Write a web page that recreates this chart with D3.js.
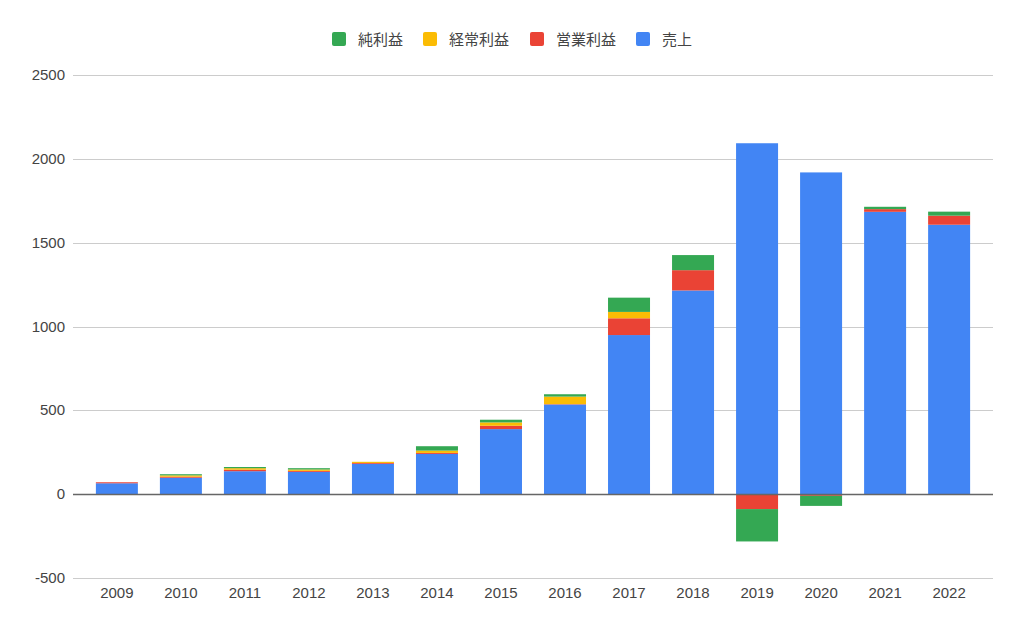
<!DOCTYPE html>
<html>
<head>
<meta charset="utf-8">
<script src="https://cdn.jsdelivr.net/npm/d3@7"></script>
<style>
  body { margin: 0; background: #fff; }
  text { font-family: Arial, "Liberation Sans", "Noto Sans CJK JP", sans-serif; }
</style>
</head>
<body>
<svg id="chart" width="1024" height="633"></svg>
<script>
const years = ["2009","2010","2011","2012","2013","2014","2015","2016","2017","2018","2019","2020","2021","2022"];
const sales = [65, 98, 137, 133, 181, 240, 388, 535, 949, 1215, 2093, 1919, 1684, 1607];
const opProfit = [6, 6, 9, 6, 5, 6, 20, 2, 100, 121, -89, -10, 16, 54];
const ordProfit = [0, 8, 9, 8, 7, 14, 20, 45, 38, 0, 0, 0, 0, 0];
const netProfit = [0, 7, 7, 8, 0, 26, 16, 14, 85, 90, -193, -60, 14, 24];
const yTicks = [-500, 0, 500, 1000, 1500, 2000, 2500];

const seriesKeys = ["売上", "営業利益", "経常利益", "純利益"];
const colors = { "売上": "#4285F4", "営業利益": "#EA4335", "経常利益": "#FBBC04", "純利益": "#34A853" };
const legendOrder = ["純利益", "経常利益", "営業利益", "売上"];

const table = years.map((y, i) => ({
  year: y,
  "売上": sales[i],
  "営業利益": opProfit[i],
  "経常利益": ordProfit[i],
  "純利益": netProfit[i]
}));

const svg = d3.select("#chart");
const plotLeft = 73, plotRight = 993, plotTop = 75, plotBottom = 578;

const x = d3.scaleBand().domain(years).range([85, 981]).paddingInner(0.344).paddingOuter(0.17);
const y = d3.scaleLinear().domain([-500, 2500]).range([plotBottom, plotTop]);

// gridlines
svg.append("g").selectAll("line")
  .data(yTicks.filter(d => d !== 0))
  .join("line")
  .attr("x1", plotLeft).attr("x2", plotRight)
  .attr("y1", d => Math.round(y(d)) + 0.5).attr("y2", d => Math.round(y(d)) + 0.5)
  .attr("stroke", "#cccccc").attr("stroke-width", 1);

// y labels
svg.append("g").selectAll("text")
  .data(yTicks)
  .join("text")
  .attr("x", 65).attr("y", d => y(d) + 5)
  .attr("text-anchor", "end")
  .attr("font-size", 15).attr("fill", "#444")
  .text(d => d);

// stacks
const stack = d3.stack().keys(seriesKeys).offset(d3.stackOffsetDiverging);
const series = stack(table);

svg.append("g").selectAll("g")
  .data(series)
  .join("g")
  .attr("fill", d => colors[d.key])
  .selectAll("rect")
  .data(d => d)
  .join("rect")
  .attr("x", d => x(d.data.year))
  .attr("width", x.bandwidth())
  .attr("y", d => y(Math.max(d[0], d[1])))
  .attr("height", d => Math.abs(y(d[0]) - y(d[1])));

// zero line
svg.append("line")
  .attr("x1", plotLeft).attr("x2", plotRight)
  .attr("y1", Math.round(y(0)) + 0.5).attr("y2", Math.round(y(0)) + 0.5)
  .attr("stroke", "#666").attr("stroke-width", 1.5);

// x labels
svg.append("g").selectAll("text")
  .data(years)
  .join("text")
  .attr("x", d => x(d) + x.bandwidth() / 2)
  .attr("y", 598)
  .attr("text-anchor", "middle")
  .attr("font-size", 15).attr("fill", "#444")
  .text(d => d);

// legend
const legendX = [332, 423, 530, 636];
const legend = svg.append("g").selectAll("g")
  .data(legendOrder)
  .join("g")
  .attr("transform", (d, i) => `translate(${legendX[i]}, 32)`);
legend.append("rect")
  .attr("width", 14).attr("height", 14).attr("rx", 2)
  .attr("fill", d => colors[d]);
legend.append("text")
  .attr("x", 26).attr("y", 12.5)
  .attr("font-size", 15).attr("fill", "#444")
  .text(d => d);
</script>
</body>
</html>
